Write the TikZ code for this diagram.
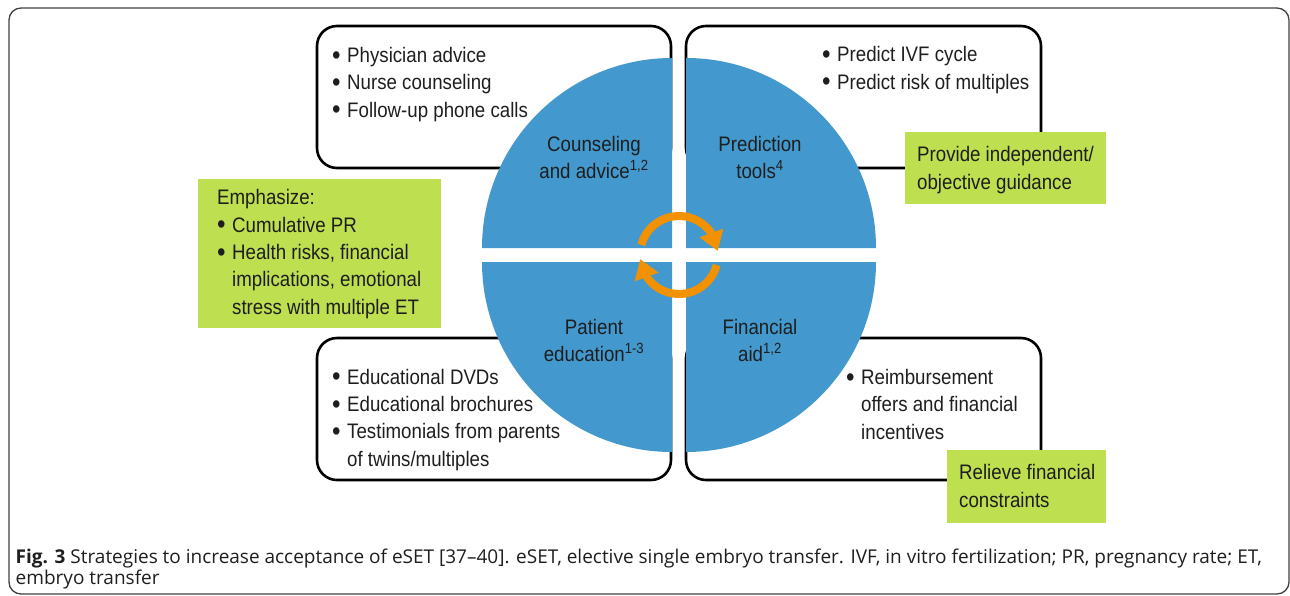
\documentclass[tikz,border=0pt]{standalone}
\usepackage{fontspec}
\setmainfont[FakeStretch=0.89]{Liberation Sans}
\newfontfamily\capfont[Ligatures=TeX]{Open Sans}
\usepackage{tikz}
\usetikzlibrary{arrows.meta,bending}
\definecolor{quadblue}{RGB}{67,153,205}
\definecolor{hintgreen}{RGB}{190,223,80}
\definecolor{cycorange}{RGB}{243,146,0}
\definecolor{inktext}{RGB}{30,30,30}
\newcommand{\bul}{\makebox[15pt][l]{\raisebox{-1.8pt}{\scalebox{1.3}{\textbullet}}}}
\newcommand{\ind}{\hspace*{15pt}}

\begin{document}
\begin{tikzpicture}[x=1pt,y=1pt,
	txt/.style={inner sep=0pt,anchor=base west,align=left,text=inktext,font=\fontsize{21}{27.3}\selectfont},
	qlabel/.style={inner sep=0pt,anchor=base,align=center,text=inktext,font=\fontsize{21}{26.5}\selectfont},
	listbox/.style={draw=black,line width=2.6pt,rounded corners=20pt},
	hint/.style={fill=hintgreen},
	quad/.style={fill=quadblue},
	cyc/.style={draw=cycorange,line width=8pt,-{Triangle[length=19pt,width=24pt]}}]
	\useasboundingbox (0,0) rectangle (1290,-595);
	\draw[black!75,line width=1.3pt,rounded corners=12pt] (9,-8) rectangle (1289,-594);
	\draw[listbox] (317,-26) rectangle (671,-168);
	\draw[listbox] (686,-26) rectangle (1041,-168);
	\draw[listbox] (317,-338) rectangle (671,-480);
	\draw[listbox] (686,-338) rectangle (1041,-480);
	\fill[quad] (672,-248) -- ++(-190,0) arc[start angle=180,end angle=90,radius=190] -- cycle;
	\fill[quad] (686,-248) -- ++(0,190) arc[start angle=90,end angle=0,radius=190] -- cycle;
	\fill[quad] (672,-262) -- ++(-190,0) arc[start angle=180,end angle=270,radius=190] -- cycle;
	\fill[quad] (686,-262) -- ++(190,0) arc[start angle=0,end angle=-90,radius=190] -- cycle;
	\fill[hint] (198,-179) rectangle (441,-328);
	\fill[hint] (905,-132) rectangle (1106,-204);
	\fill[hint] (947,-450) rectangle (1106,-523);
	\draw[cyc] (679,-255) ++(165:39) arc[start angle=165,end angle=6,radius=39];
	\draw[cyc] (679,-255) ++(-15:39) arc[start angle=-15,end angle=-174,radius=39];
	\node[txt] (advice) at (332,-117) {\bul Physician advice\\\bul Nurse counseling\\\bul Follow-up phone calls};
	\node[txt] (predict) at (822,-89) {\bul Predict IVF cycle\\\bul Predict risk of multiples};
	\node[txt] (guidance) at (917,-189) {Provide independent/\\objective guidance};
	\node[txt] (emphasize) at (217,-314) {Emphasize:\\\bul Cumulative PR\\\bul Health risks, financial\\\ind implications, emotional\\\ind stress with multiple ET};
	\node[txt] (media) at (332,-466) {\bul Educational DVDs\\\bul Educational brochures\\\bul Testimonials from parents\\\ind of twins/multiples};
	\node[txt] (refund) at (846,-439) {\bul Reimbursement\\\ind offers and financial\\\ind incentives};
	\node[txt] (relieve) at (959,-507) {Relieve financial\\constraints};
	\node[qlabel] (counsel) at (594,-178) {Counseling\\and advice\textsuperscript{1,2}};
	\node[qlabel] (tools) at (760,-178) {Prediction\\tools\textsuperscript{4}};
	\node[qlabel] (educ) at (594,-361) {Patient\\education\textsuperscript{1-3}};
	\node[qlabel] (aid) at (760,-361) {Financial\\aid\textsuperscript{1,2}};
	\node[anchor=base west,inner sep=0pt,align=left,text=inktext,font=\capfont\fontsize{19}{21}\selectfont] (caption) at (15.5,-584) {\textbf{Fig. 3} Strategies to increase acceptance of eSET [37--40]. eSET, elective single embryo transfer. IVF, in vitro fertilization; PR, pregnancy rate; ET,\\embryo transfer};
\end{tikzpicture}
\end{document}
